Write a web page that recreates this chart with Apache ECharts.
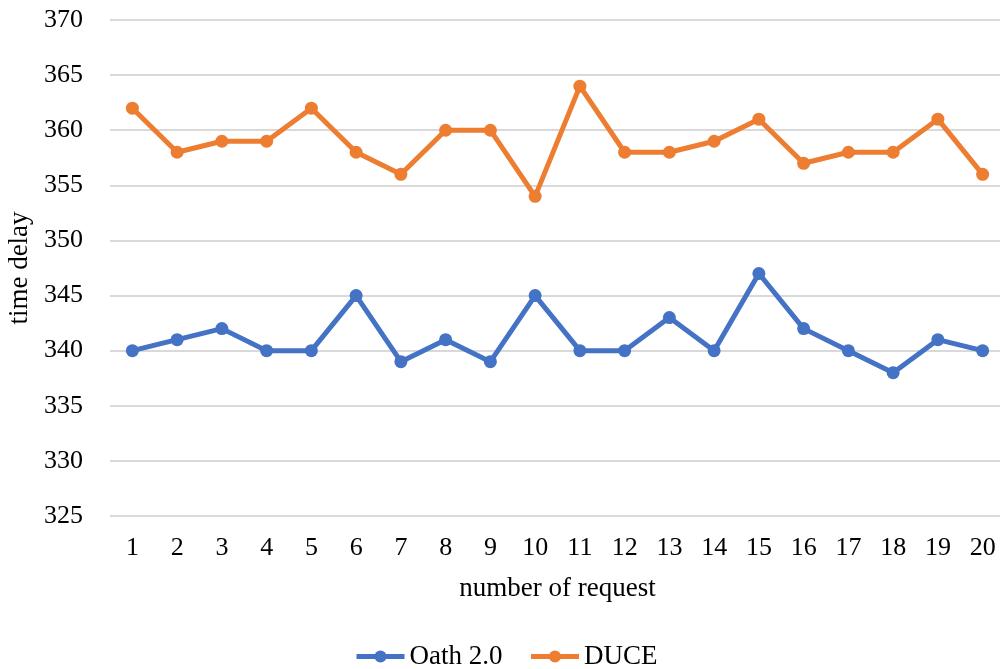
<!DOCTYPE html>
<html>
<head>
<meta charset="utf-8">
<script src="https://cdn.jsdelivr.net/npm/echarts@6/dist/echarts.min.js"></script>
<style>
  html, body { margin: 0; padding: 0; background: #fff; }
  #chart { width: 1000px; height: 669px; }
</style>
</head>
<body>
<div id="chart"></div>
<script>
// Request index along the x axis
const requests = ['1','2','3','4','5','6','7','8','9','10','11','12','13','14','15','16','17','18','19','20'];
// Measured time delay per request
const oathDelay = [340, 341, 342, 340, 340, 345, 339, 341, 339, 345, 340, 340, 343, 340, 347, 342, 340, 338, 341, 340];
const duceDelay = [362, 358, 359, 359, 362, 358, 356, 360, 360, 354, 364, 358, 358, 359, 361, 357, 358, 358, 361, 356];

const font = 'Liberation Serif';
const chart = echarts.init(document.getElementById('chart'));

const lineSeries = (name, data, color) => ({
  name, type: 'line', data,
  symbol: 'circle', symbolSize: 13,
  lineStyle: { width: 5, color },
  itemStyle: { color },
  emphasis: { disabled: true }
});

chart.setOption({
  animation: false,
  textStyle: { fontFamily: font },
  grid: {
    left: 110, top: 20, width: 895, height: 496,
    containLabel: false, outerBoundsMode: 'none'
  },
  legend: {
    top: 638, left: 349,
    itemWidth: 48, itemHeight: 15, itemGap: 26,
    lineStyle: { width: 5 },
    textStyle: { fontFamily: font, fontSize: 27, color: '#000' },
    data: ['Oath 2.0', 'DUCE']
  },
  xAxis: {
    type: 'category', data: requests, boundaryGap: true,
    name: 'number of request', nameLocation: 'middle', nameGap: 59,
    nameTextStyle: { fontFamily: font, fontSize: 27, color: '#000' },
    axisLine: { show: false }, axisTick: { show: false },
    axisLabel: { fontFamily: font, fontSize: 26, color: '#000', margin: 19 }
  },
  yAxis: {
    type: 'value', min: 325, max: 370, interval: 5,
    name: 'time delay', nameLocation: 'middle', nameGap: 77,
    nameTextStyle: { fontFamily: font, fontSize: 27, color: '#000' },
    axisLine: { show: false }, axisTick: { show: false },
    axisLabel: { fontFamily: font, fontSize: 26, color: '#000', margin: 27 },
    splitLine: { lineStyle: { color: '#d9d9d9', width: 2 } }
  },
  series: [
    lineSeries('Oath 2.0', oathDelay, '#4472C4'),
    lineSeries('DUCE', duceDelay, '#ED7D31')
  ]
});
</script>
</body>
</html>
